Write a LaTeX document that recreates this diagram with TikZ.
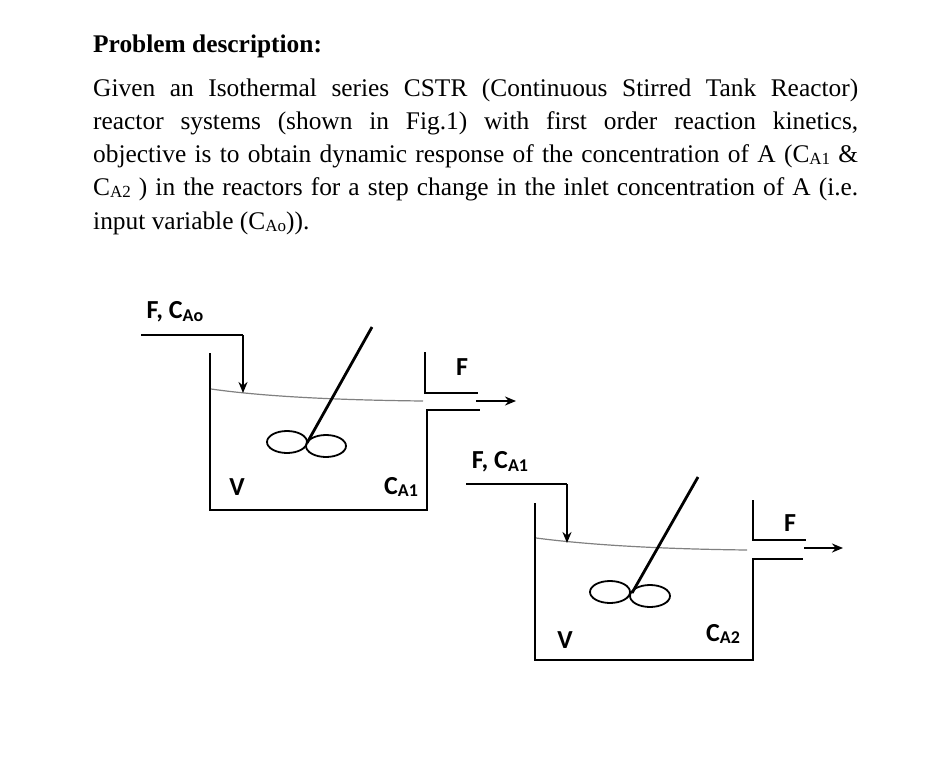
\documentclass[tikz,border=0pt]{standalone}
\usepackage{fontspec}
\setmainfont{Liberation Serif}
\newfontfamily\lblfont{Carlito}
\usetikzlibrary{arrows.meta}
\newcommand\lowsub[1]{\raisebox{-0.25ex}{\fontsize{17}{17}\selectfont #1}}
\newcommand\lblsub[1]{\raisebox{-0.2ex}{\fontsize{18}{18}\selectfont #1}}
\tikzset{
  txt/.style={anchor=base west,inner sep=0pt,font=\fontsize{25.4}{25.4}\selectfont},
  lbl/.style={inner sep=0pt,font=\lblfont\bfseries\fontsize{26}{26}\selectfont},
  wall/.style={line width=2.8pt},
  pipe/.style={line width=2.6pt},
  flow/.style={line width=2pt,-{Stealth[length=11pt,width=9pt]}},
  surf/.style={gray,line width=1.2pt},
  blade/.style={line width=1.8pt}
}
\begin{document}
\begin{tikzpicture}[x=1pt,y=-1pt]
\useasboundingbox (0,0) rectangle (945,771);
% text
\node[txt,font=\bfseries\fontsize{25.4}{25.4}\selectfont] (title) at (93,52) {Problem description:};
\node[txt] (l1) at (93,96) {\makebox[765pt][s]{Given an Isothermal series CSTR (Continuous Stirred Tank Reactor)}};
\node[txt] (l2) at (93,129) {\makebox[765pt][s]{reactor systems (shown in Fig.1) with first order reaction kinetics,}};
\node[txt] (l3) at (93,162) {\makebox[765pt][s]{objective is to obtain dynamic response of the concentration of A (C\lowsub{A1} \&}};
\node[txt] (l4) at (93,195) {\makebox[765pt][s]{C\lowsub{A2} ) in the reactors for a step change in the inlet concentration of A (i.e.}};
\node[txt] (l5) at (93,229) {input variable (C\lowsub{Ao})).};
% tank 1
\draw[wall] (210,353) -- (210,510) -- (427,510) -- (427,410) -- (480,410);
\draw[pipe] (425,352) -- (425,393) -- (478,393);
\draw[surf] (211,389) .. controls (260,396) and (330,400) .. (423,401);
\coordinate (in1s) at (141,335);
\coordinate (in1c) at (243,335);
\coordinate (in1e) at (243,393);
\draw[pipe] (in1s) -- (in1c);
\draw[flow] (in1c) -- (in1e);
\coordinate (o1s) at (476,401);
\coordinate (o1e) at (516,401);
\draw[flow] (o1s) -- (o1e);
\draw[wall] (372,327) -- (307,443);
\draw[blade] (287,442) ellipse [x radius=20, y radius=11];
\draw[blade] (326,446) ellipse [x radius=20, y radius=11];
\node[lbl] (f1) at (175,312) {F, C\lblsub{Ao}};
\node[lbl] (fo1) at (462,367) {F};
\node[lbl] (v1) at (237,487) {V};
\node[lbl] (c1) at (401,487) {C\lblsub{A1}};
% tank 2
\draw[wall] (535,503) -- (535,660) -- (753,660) -- (753,559) -- (803,559);
\draw[pipe] (753,500) -- (753,540) -- (806,540);
\draw[surf] (536,538) .. controls (590,545) and (660,549) .. (747,550);
\coordinate (in2s) at (466,484);
\coordinate (in2c) at (567,484);
\coordinate (in2e) at (567,543);
\draw[pipe] (in2s) -- (in2c);
\draw[flow] (in2c) -- (in2e);
\coordinate (o2s) at (804,548);
\coordinate (o2e) at (843,548);
\draw[flow] (o2s) -- (o2e);
\draw[wall] (698,477) -- (632,593);
\draw[blade] (610,592) ellipse [x radius=20, y radius=11];
\draw[blade] (650,596) ellipse [x radius=20, y radius=11];
\node[lbl] (f2) at (500,462) {F, C\lblsub{A1}};
\node[lbl] (fo2) at (790,523) {F};
\node[lbl] (v2) at (565,640) {V};
\node[lbl] (c2) at (723,634) {C\lblsub{A2}};
\end{tikzpicture}
\end{document}
